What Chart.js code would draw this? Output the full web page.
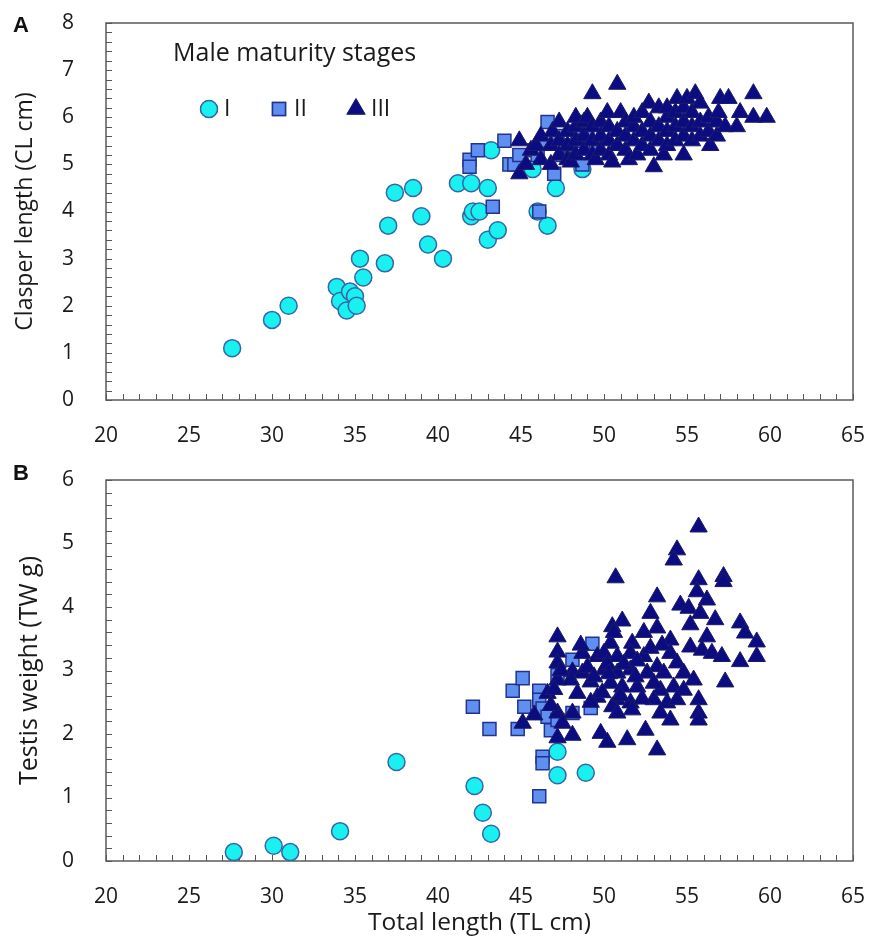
<!DOCTYPE html>
<html>
<head>
<meta charset="utf-8">
<script src="https://cdn.jsdelivr.net/npm/chart.js@4.4.1/dist/chart.umd.min.js"></script>
<style>
  body { margin: 0; background: #fff; width: 870px; height: 940px; position: relative; overflow: hidden; }
  canvas { position: absolute; left: 0; }
  .tag { position: absolute; left: 13px; font: bold 22px "Liberation Sans", Arial, sans-serif; color: #111; z-index: 2; }
</style>
</head>
<body>
<canvas id="chartA" width="870" height="460" style="top:0"></canvas>
<canvas id="chartB" width="870" height="480" style="top:460px"></canvas>
<div class="tag" style="top:12px">A</div>
<div class="tag" style="top:460px">B</div>
<script>
// total length (cm) vs clasper length (cm), panel A
const stageI_A = [
  [27.6,1.1],[30.0,1.7],[31.0,2.0],[33.9,2.4],[34.1,2.1],[34.5,1.9],[34.7,2.3],[35.0,2.2],[35.1,2.0],
  [35.3,3.0],[35.5,2.6],[36.8,2.9],[37.0,3.7],[37.4,4.4],[38.5,4.5],[39.0,3.9],[39.4,3.3],[40.3,3.0],
  [41.2,4.6],[42.0,4.6],[42.0,3.9],[42.1,4.0],[42.5,4.0],[43.0,4.5],[43.0,3.4],[43.6,3.6],[43.2,5.3],
  [45.7,4.9],[46.0,4.0],[46.6,3.7],[47.1,4.5],[48.7,4.9]
];
const stageII_A = [
  [41.9,5.1],[41.9,4.95],[42.4,5.3],[44.0,5.5],[44.3,5.0],[44.6,5.0],[44.9,5.2],[45.8,5.3],[46.4,5.5],
  [46.6,5.9],[47.0,4.8],[48.4,5.7],[48.8,5.9],[48.6,5.5],[43.3,4.1],[46.1,4.0],[48.7,5.0],[47.5,5.2],
  [48.0,5.4],[49.0,5.6],[49.5,5.4],[47.2,5.6],[46.0,5.2]
];
const stageIII_A = [
  [44.9,5.5],[44.9,4.8],[45.3,5.0],[45.6,5.3],[45.9,5.4],[46.2,5.1],[46.2,5.6],[46.9,5.7],[46.8,5.0],
  [46.8,5.4],[47.3,5.2],[47.3,5.5],[47.3,5.9],[47.8,5.1],[47.8,5.4],[47.8,5.7],[48.0,5.05],[48.3,5.2],
  [48.3,5.5],[48.3,5.8],[48.3,6.0],[48.8,5.3],[48.8,5.6],[48.8,5.9],[49.0,6.0],[49.3,6.5],[49.3,5.2],
  [49.3,5.5],[49.3,5.8],[49.5,5.1],[49.8,5.3],[49.8,5.6],[49.8,5.9],[50.2,6.1],[50.3,5.2],[50.3,5.5],
  [50.3,5.8],[50.5,5.05],[50.8,6.7],[50.8,5.4],[50.8,5.7],[51.0,6.1],[51.3,5.3],[51.3,5.6],[51.3,5.9],
  [51.5,5.1],[51.8,5.5],[51.8,5.8],[51.8,6.0],[52.0,5.2],[52.3,5.4],[52.3,5.7],[52.3,6.1],[52.7,6.3],
  [52.8,5.3],[52.8,5.6],[52.8,5.9],[53.0,4.95],[53.3,5.5],[53.3,5.8],[53.3,6.2],[53.6,5.2],[53.8,5.4],
  [53.8,5.7],[53.8,6.0],[53.8,6.2],[54.3,5.5],[54.3,5.8],[54.3,6.1],[54.4,6.4],[54.8,5.2],[54.8,5.6],
  [54.8,5.9],[54.8,6.2],[55.0,6.4],[55.3,5.5],[55.3,5.8],[55.3,6.1],[55.5,6.5],[55.8,5.6],[55.8,5.9],
  [55.8,6.3],[56.3,5.7],[56.3,6.0],[56.4,5.4],[56.8,5.6],[56.8,5.9],[56.9,6.1],[57.0,6.4],[57.3,5.8],
  [57.5,6.4],[58.0,5.8],[58.2,6.1],[59.0,6.5],[59.0,6.0],[59.8,6.0]
];

// total length (cm) vs testis weight (g), panel B
const stageI_B = [
  [27.7,0.14],[30.1,0.24],[31.1,0.14],[34.1,0.47],[37.5,1.56],[42.2,1.18],[42.7,0.76],[43.2,0.43],
  [47.2,1.72],[47.2,1.35],[48.9,1.39]
];
const stageII_B = [
  [42.1,2.43],[43.1,2.08],[44.5,2.68],[45.1,2.88],[44.8,2.08],[45.2,2.43],[46.1,2.68],[46.1,2.54],
  [46.3,2.4],[46.6,2.27],[46.8,2.06],[47.2,2.22],[46.3,1.64],[46.3,1.54],[46.1,1.02],[49.3,3.42],
  [48.1,3.17],[47.2,2.93],[48.1,2.33],[49.2,2.41]
];
const stageIII_B = [
  [55.7,5.26],[54.4,4.9],[54.2,4.74],[50.7,4.46],[55.7,4.43],[57.2,4.48],[57.2,4.4],[55.6,4.24],
  [53.2,4.16],[56.2,4.11],[54.6,4.03],[55.1,3.98],[52.8,3.9],[55.8,3.9],[51.1,3.78],[56.7,3.8],
  [58.2,3.75],[55.2,3.72],[50.5,3.69],[53.2,3.67],[58.5,3.59],[47.2,3.53],[56.2,3.53],[54.0,3.48],
  [59.2,3.45],[51.7,3.43],[50.4,3.43],[47.2,3.29],[48.7,3.27],[55.2,3.37],[55.9,3.32],[56.5,3.27],
  [57.1,3.22],[58.2,3.14],[59.2,3.22],[54.0,3.27],[54.4,3.12],[47.2,3.12],[49.6,3.22],[50.0,3.27],
  [50.8,3.22],[51.6,3.27],[52.4,3.22],[53.2,3.06],[48.1,2.98],[48.7,2.96],[50.0,3.01],[50.8,2.96],
  [51.6,3.01],[52.6,2.96],[53.6,2.96],[54.8,2.96],[55.4,2.85],[57.3,2.82],[47.2,2.85],[48.0,2.85],
  [49.2,2.82],[50.4,2.8],[51.1,2.74],[52.0,2.74],[53.4,2.69],[54.2,2.74],[54.8,2.69],[46.6,2.64],
  [48.4,2.64],[49.6,2.58],[50.8,2.54],[51.6,2.49],[53.0,2.54],[53.8,2.49],[54.4,2.54],[55.7,2.54],
  [55.7,2.33],[55.7,2.22],[45.8,2.3],[45.1,2.17],[47.2,2.33],[48.1,2.33],[50.5,2.43],[50.8,2.33],
  [51.7,2.38],[53.4,2.33],[54.0,2.22],[47.5,2.17],[48.1,1.98],[47.2,1.94],[49.8,2.01],[50.2,1.87],
  [51.4,1.91],[52.5,2.06],[53.2,1.75],[49.0,3.05],[49.4,2.9],[50.2,3.1],[51.2,3.1],[52.0,3.15],
  [52.8,3.35],[53.5,3.4],[51.0,2.6],[52.3,2.55],[49.2,2.5],[48.6,3.4],[50.6,3.6],[52.4,3.6],
  [47.4,3.0],[47.0,2.7],[46.8,2.45],[49.9,2.65],[53.0,2.8],[51.9,2.9],[50.3,2.95]
];

const stageLabels = ["I", "II", "III"];
const FONT = "'Open Sans', Lato, sans-serif";
const TEXT = "#1a1a1a";

const isWhole = v => Math.abs(v - Math.round(v)) < 1e-6;
const pts = arr => arr.map(p => ({ x: p[0], y: p[1] }));

const styles = [
  { pointStyle: "circle",   radius: 8.5, bg: "#19f0f0", border: "#3467a8", bw: 1.5, order: 3 },
  { pointStyle: "rect",     radius: 9.2, bg: "#5f8ff0", border: "#22338f", bw: 1.5, order: 2 },
  { pointStyle: "triangle", radius: 10,  bg: "#0b0b82", border: "#1c1c66", bw: 1,   order: 1 }
];

function makeDatasets(series) {
  return series.map((s, i) => ({
    label: stageLabels[i],
    data: pts(s),
    pointStyle: styles[i].pointStyle,
    pointRadius: styles[i].radius,
    backgroundColor: styles[i].bg,
    borderColor: styles[i].border,
    borderWidth: styles[i].bw,
    order: styles[i].order
  }));
}

// plot frame and inward minor ticks
const frameTicks = {
  id: "frameTicks",
  beforeDatasetsDraw(chart) {
    const { ctx, chartArea: a, scales } = chart;
    ctx.save();
    ctx.strokeStyle = "#555";
    ctx.lineWidth = 1;
    scales.x.ticks.forEach(t => {
      const px = Math.round(scales.x.getPixelForValue(t.value)) + 0.5;
      ctx.beginPath(); ctx.moveTo(px, a.bottom); ctx.lineTo(px, a.bottom - 6); ctx.stroke();
    });
    scales.y.ticks.forEach(t => {
      const py = Math.round(scales.y.getPixelForValue(t.value)) + 0.5;
      ctx.beginPath(); ctx.moveTo(a.left, py); ctx.lineTo(a.left + 6, py); ctx.stroke();
    });
    ctx.strokeStyle = "#5a5a5a";
    ctx.lineWidth = 1.5;
    ctx.strokeRect(a.left, a.top, a.right - a.left, a.bottom - a.top);
    ctx.restore();
  }
};

// legend box inside panel A
const stageLegend = {
  id: "stageLegend",
  afterDraw(chart) {
    const ctx = chart.ctx;
    ctx.save();
    ctx.fillStyle = TEXT;
    ctx.font = "25px " + FONT;
    ctx.textBaseline = "middle";
    ctx.fillText("Male maturity stages", 173, 54);
    const xs = [209, 279, 356];
    ctx.font = "23px " + FONT;
    stageLabels.forEach((lab, i) => {
      const st = styles[i];
      Chart.helpers.drawPoint(ctx, {
        pointStyle: st.pointStyle, radius: st.radius, borderWidth: st.bw
      }, xs[i], 109);
      ctx.fillStyle = st.bg;
      ctx.strokeStyle = st.border;
      ctx.lineWidth = st.bw;
      ctx.fill();
      ctx.stroke();
      ctx.fillStyle = TEXT;
      ctx.fillText(lab, xs[i] + 15, 109);
    });
    ctx.restore();
  }
};

function axisOptions(yMax, yTitle, yTitleSize, yTitlePad, xHeight, xTitle) {
  return {
    x: {
      type: "linear", min: 20, max: 65,
      afterFit(s) { s.height = xHeight; s.paddingLeft = 0; s.paddingRight = 0; },
      grid: { display: false }, border: { display: false },
      ticks: {
        stepSize: 1, autoSkip: false, maxRotation: 0, maxTicksLimit: 200, padding: 15,
        color: TEXT, font: { family: FONT, size: 21 },
        callback: v => (isWhole(v) && Math.round(v) % 5 === 0) ? String(Math.round(v)) : ""
      },
      title: {
        display: !!xTitle, text: xTitle || "", color: TEXT,
        font: { family: FONT, size: 24.5 }, padding: { top: 0, bottom: 2 }
      }
    },
    y: {
      min: 0, max: yMax,
      afterFit(s) { s.width = 106; s.paddingTop = 0; s.paddingBottom = 0; },
      grid: { display: false }, border: { display: false },
      ticks: {
        stepSize: 0.2, autoSkip: false, maxTicksLimit: 200, padding: 24,
        color: TEXT, font: { family: FONT, size: 21 },
        callback: v => isWhole(v) ? String(Math.round(v)) : ""
      },
      title: {
        display: true, text: yTitle, color: TEXT,
        font: { family: FONT, size: yTitleSize }, padding: { top: yTitlePad, bottom: 0 }
      }
    }
  };
}

function commonOptions(pad, scales) {
  return {
    responsive: false,
    animation: false,
    layout: { padding: pad },
    plugins: { legend: { display: false }, tooltip: { enabled: false } },
    scales: scales
  };
}

new Chart(document.getElementById("chartA"), {
  type: "scatter",
  data: { datasets: makeDatasets([stageI_A, stageII_A, stageIII_A]) },
  options: commonOptions({ top: 23, right: 17, left: 0, bottom: 0 },
    axisOptions(8, "Clasper length (CL cm)", 23, 12, 60, null)),
  plugins: [frameTicks, stageLegend]
});

new Chart(document.getElementById("chartB"), {
  type: "scatter",
  data: { datasets: makeDatasets([stageI_B, stageII_B, stageIII_B]) },
  options: commonOptions({ top: 20, right: 17, left: 0, bottom: 0 },
    axisOptions(6, "Testis weight (TW g)", 25, 15, 79, "Total length (TL cm)")),
  plugins: [frameTicks]
});
</script>
</body>
</html>
